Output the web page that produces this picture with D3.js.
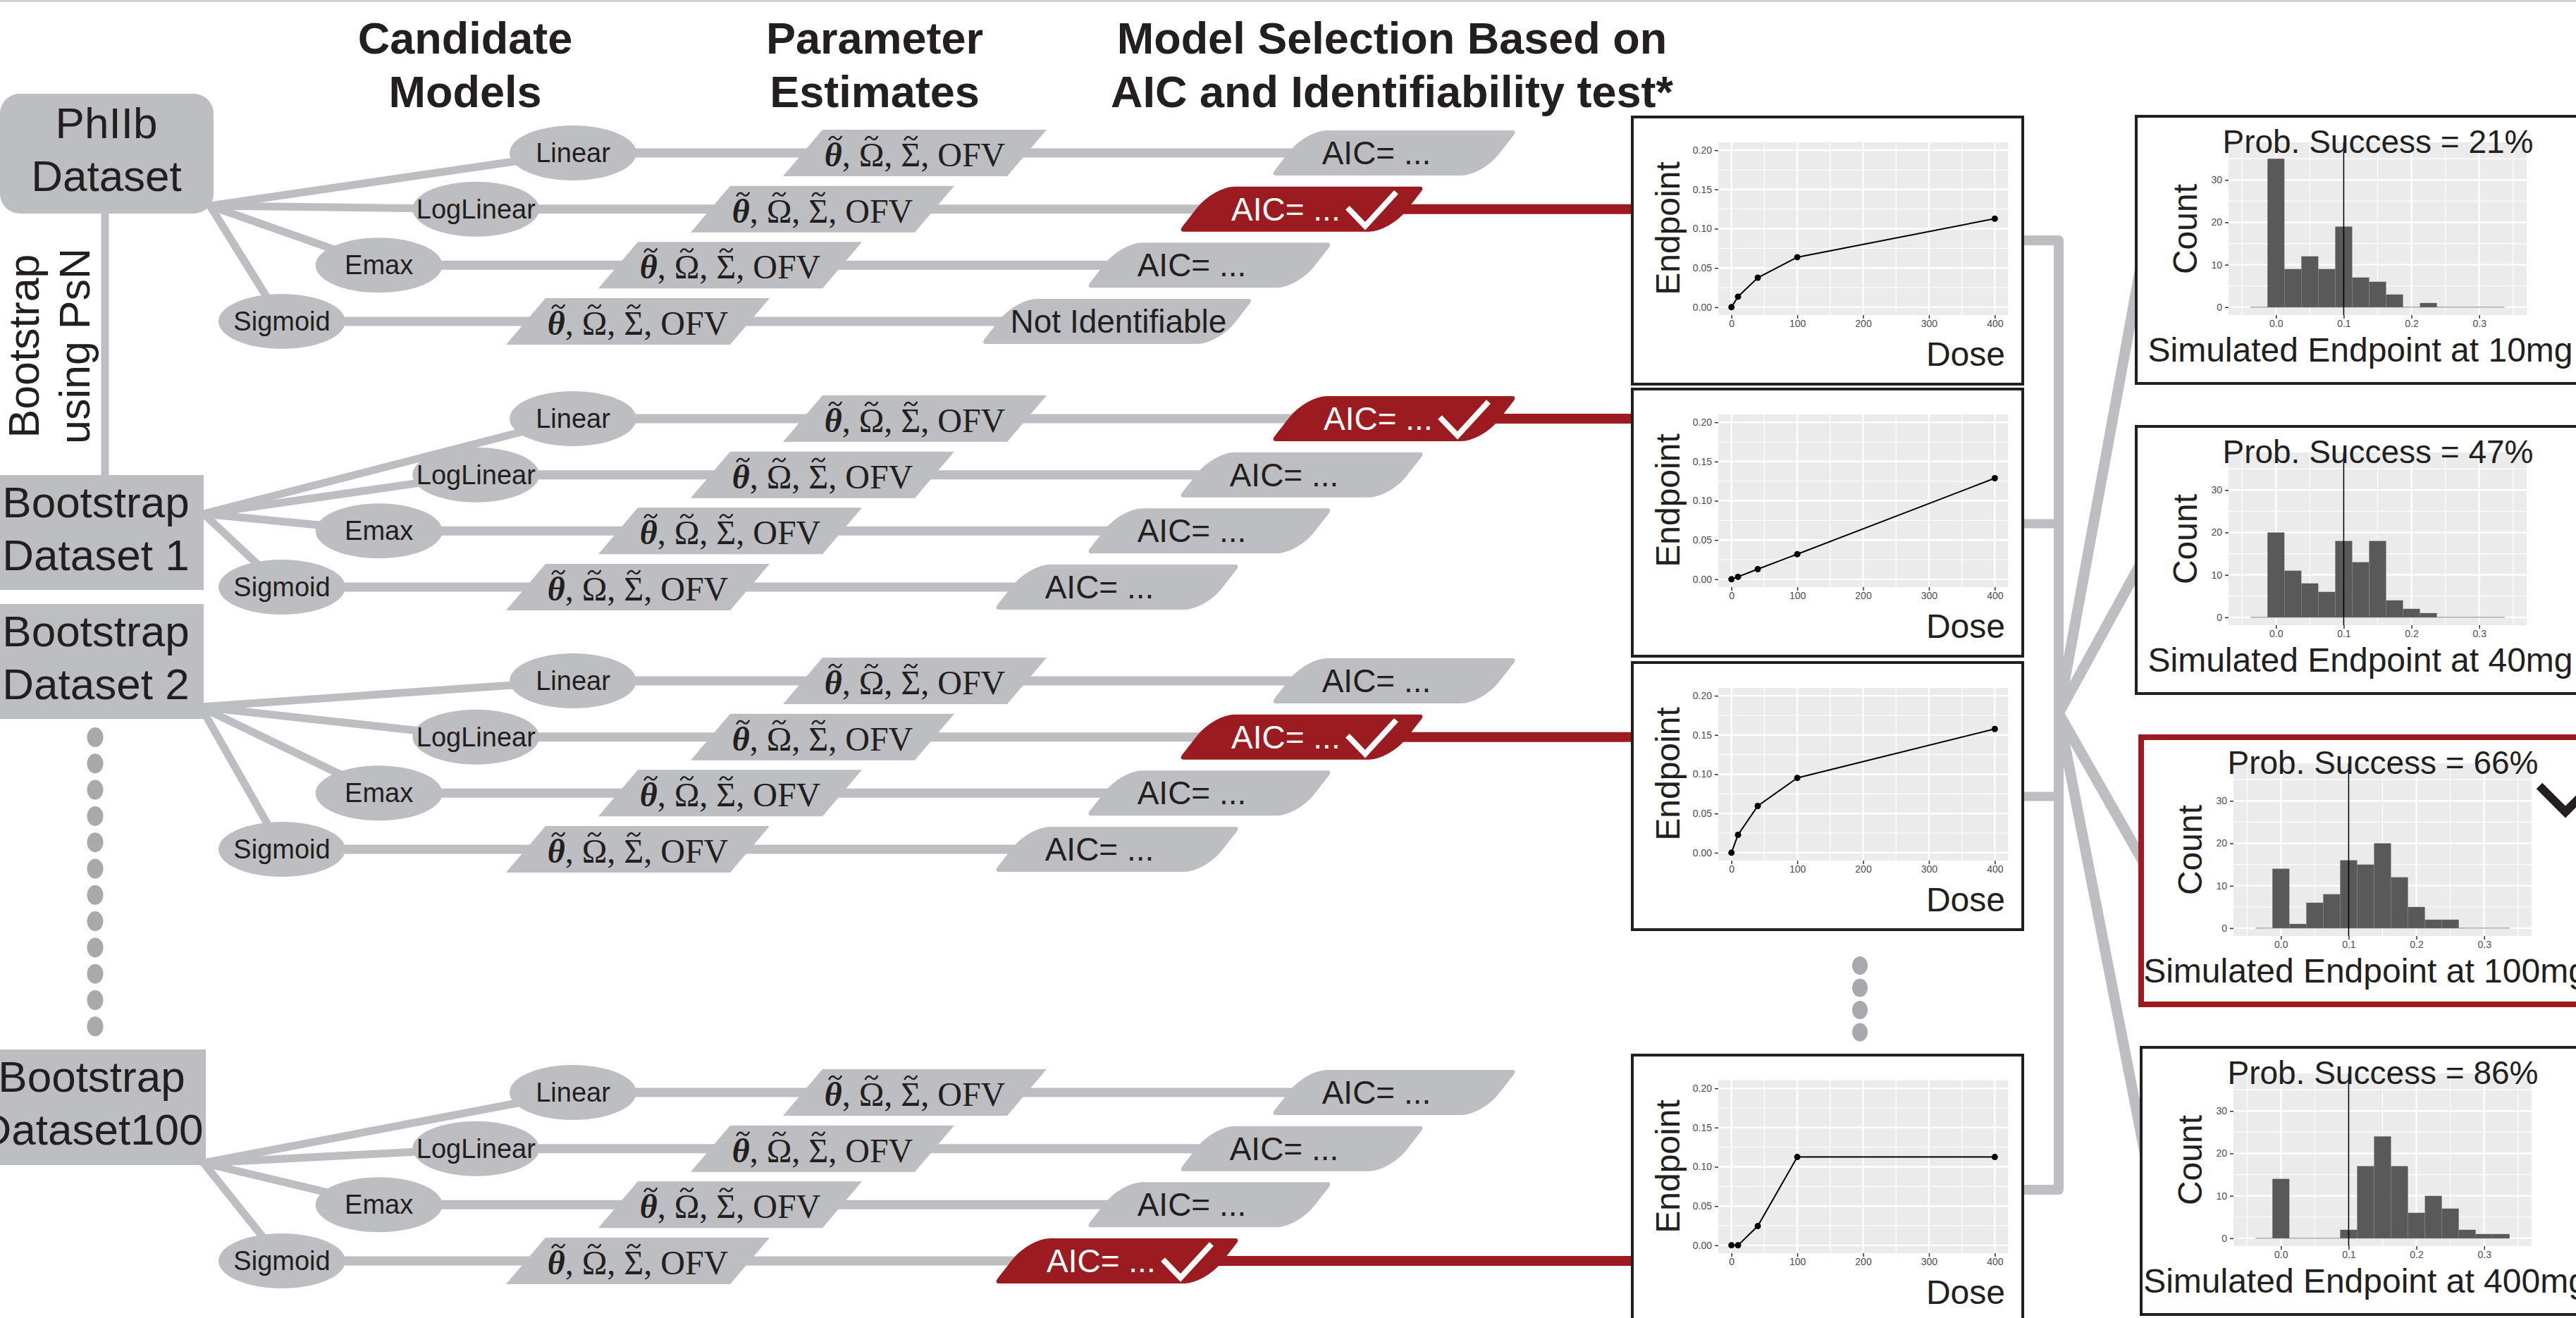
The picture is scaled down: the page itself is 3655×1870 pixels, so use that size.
<!DOCTYPE html>
<html>
<head>
<meta charset="utf-8">
<script src="https://cdn.jsdelivr.net/npm/d3@7"></script>
<style>
  html, body { margin: 0; padding: 0; background: #fff; }
  svg { display: block; }
  text { font-family: "Liberation Sans", Arial, Helvetica, sans-serif; fill: #231f20; }
</style>
</head>
<body>
<div id="chart"></div>
<script>
// Data
const headerLines = [
  ['Candidate', 'Models'],
  ['Parameter', 'Estimates'],
  ['Model Selection Based on', 'AIC and Identifiability test*'],
];
const datasetLabels = [
  ['PhIIb', 'Dataset'],
  ['Bootstrap', 'Dataset 1'],
  ['Bootstrap', 'Dataset 2'],
  ['Bootstrap', 'Dataset100'],
];
const sideLabel = ['Bootstrap', 'using PsN'];
const models = ['Linear', 'LogLinear', 'Emax', 'Sigmoid'];
const selectedModel = ['LogLinear', 'Linear', 'LogLinear', 'Sigmoid'];
const aicLabels = [
  ['AIC= ...', 'AIC= ...', 'AIC= ...', 'Not Identifiable'],
  ['AIC= ...', 'AIC= ...', 'AIC= ...', 'AIC= ...'],
  ['AIC= ...', 'AIC= ...', 'AIC= ...', 'AIC= ...'],
  ['AIC= ...', 'AIC= ...', 'AIC= ...', 'AIC= ...'],
];
const paramSymbols = ['\u03B8', '\u03A9', '\u03A3'];
const paramTail = 'OFV';

const doses = [0, 10, 40, 100, 400];
const doseResponse = [
  [0, 0.0134, 0.0376, 0.0637, 0.1128],
  [0, 0.0031, 0.0129, 0.0320, 0.1287],
  [0, 0.0228, 0.0596, 0.0953, 0.1577],
  [0, 0, 0.0245, 0.1125, 0.1125],
];
const endpointTicks = [0, 0.05, 0.10, 0.15, 0.20];
const doseTicks = [0, 100, 200, 300, 400];

const simDoses = ['10mg', '40mg', '100mg', '400mg'];
const probSuccess = [21, 47, 66, 86];
const chosenDose = '100mg';
const targetValue = 0.1;
const binWidth = 0.025;
const binCenters = [-0.025, 0, 0.025, 0.05, 0.075, 0.1, 0.125, 0.15, 0.175, 0.2, 0.225, 0.25, 0.275, 0.3, 0.325];
const counts10 = [0, 35, 9, 12, 9, 19, 7, 6, 3, 0, 1, 0, 0, 0, 0];
const counts40 = [0, 20, 11, 8, 6, 18, 13, 18, 4, 2, 1, 0, 0, 0, 0];
const counts100 = [0, 14, 1, 6, 8, 16, 15, 20, 12, 5, 2, 2, 0, 0, 0];
const counts400 = [0, 14, 0, 0, 0, 2, 17, 24, 17, 6, 10, 7, 2, 1, 1];
const simCounts = [counts10, counts40, counts100, counts400];
const countTicks = [0, 10, 20, 30];
const simTicks = [0, 0.1, 0.2, 0.3];

// Layout
const W = 3655, H = 1870;
const gray = '#bcbec1', red = '#9b1b20', ink = '#231f20', dotGray = '#a7a9ac';

const groupY = [217, 594, 966, 1550];
const rowOffset = d3.scalePoint().domain(models).range([0, 239]);
const ellipseX = d3.scalePoint().domain(models).range([813, 400]);
const paramX = d3.scalePoint().domain(models).range([1298, 905]);
const aicX = d3.scalePoint().domain(models).range([1978, 1585]);

const dsBoxes = [
  { x: 0, y: 133, w: 303, h: 170, r: 28, cx: 151 },
  { x: 0, y: 674, w: 289, h: 163, r: 0, cx: 136 },
  { x: 0, y: 857, w: 289, h: 163, r: 0, cx: 136 },
  { x: 0, y: 1489, w: 292, h: 164, r: 0, cx: 130 },
];
const fanFrom = [[298, 292], [289, 729], [285, 1003], [289, 1650]];

const plotLeft = 2316, plotW = 554, plotH = 379;
const plotTops = [166, 552, 940, 1497];
const stubY = [341, 743, 1130, 1688];
const barX = 2921, fanOrigin = [2921, 1012];
const histLefts = [3031, 3031, 3038, 3038];
const histTops = [165, 605, 1046, 1486];
const histW = 680;
const fanToY = [380, 800, 1228, 1640];

const svg = d3.select('#chart').append('svg')
  .attr('width', W).attr('height', H)
  .attr('viewBox', `0 0 ${W} ${H}`);

svg.append('rect').attr('width', W).attr('height', H).attr('fill', '#fff');
svg.append('line').attr('x1', 0).attr('x2', W).attr('y1', 1.5).attr('y2', 1.5)
  .attr('stroke', '#d2d3d5').attr('stroke-width', 3);

// Column headers
const headerX = [660, 1241, 1975];
headerLines.forEach((lines, i) => {
  svg.append('text')
    .attr('text-anchor', 'middle')
    .attr('font-weight', 'bold')
    .attr('font-size', 63)
    .selectAll('tspan').data(lines).join('tspan')
    .attr('x', headerX[i])
    .attr('y', (d, j) => 76 + j * 76)
    .text((d) => d);
});

// Bootstrap link and side label
svg.append('line').attr('x1', 149).attr('x2', 149).attr('y1', 300).attr('y2', 676)
  .attr('stroke', gray).attr('stroke-width', 11);
svg.selectAll('.side').data(sideLabel).join('text')
  .attr('class', 'side')
  .attr('transform', (d, i) => `translate(${i ? 127 : 55},491) rotate(-90)`)
  .attr('text-anchor', 'middle')
  .attr('font-size', 61)
  .text((d) => d);

// Rows: one per dataset x model
const rows = [];
datasetLabels.forEach((lab, g) => {
  models.forEach((m, k) => {
    rows.push({ g, m, y: groupY[g] + rowOffset(m), label: aicLabels[g][k], selected: selectedModel[g] === m });
  });
});

svg.append('g').attr('stroke', gray).attr('stroke-width', 11).attr('stroke-linecap', 'round')
  .selectAll('line').data(rows).join('line')
  .attr('x1', (d) => fanFrom[d.g][0]).attr('y1', (d) => fanFrom[d.g][1])
  .attr('x2', (d) => ellipseX(d.m)).attr('y2', (d) => d.y);

svg.append('g').attr('stroke', gray).attr('stroke-width', 13)
  .selectAll('line').data(rows).join('line')
  .attr('x1', (d) => ellipseX(d.m)).attr('x2', (d) => aicX(d.m))
  .attr('y1', (d) => d.y).attr('y2', (d) => d.y);

svg.append('g').attr('stroke', red).attr('stroke-width', 14)
  .selectAll('line').data(rows.filter((d) => d.selected)).join('line')
  .attr('x1', (d) => aicX(d.m)).attr('x2', plotLeft)
  .attr('y1', (d) => d.y).attr('y2', (d) => d.y);

// Candidate model ellipses
const ell = svg.append('g').selectAll('g').data(rows).join('g')
  .attr('transform', (d) => `translate(${ellipseX(d.m)},${d.y})`);
ell.append('ellipse').attr('rx', 90).attr('ry', 39).attr('fill', gray);
ell.append('text').attr('y', 13).attr('text-anchor', 'middle').attr('font-size', 38).text((d) => d.m);

// Parameter estimate parallelograms
const paraPath = (w, h, s) => `M${-w / 2 + s},${-h / 2}H${w / 2 + s}L${w / 2 - s},${h / 2}H${-w / 2 - s}Z`;
const tildePath = 'M-9,3C-6,-3 -3,-3 0,0S6,3 9,-3';
const par = svg.append('g').selectAll('g').data(rows).join('g')
  .attr('transform', (d) => `translate(${paramX(d.m)},${d.y})`);
par.append('path').attr('d', paraPath(318, 66, 28)).attr('fill', gray);
const ptxt = par.append('text').attr('y', 19).attr('text-anchor', 'middle')
  .attr('font-size', 48).style('font-family', '"Liberation Serif", "DejaVu Serif", serif');
ptxt.append('tspan').attr('font-weight', 'bold').attr('font-style', 'italic').text(paramSymbols[0]);
ptxt.append('tspan').text(`, ${paramSymbols[1]}, ${paramSymbols[2]}, ${paramTail}`);
// tildes over the three estimated symbols
ptxt.each(function () {
  const node = this;
  [0, 3, 6].forEach((ci, k) => {
    const b = node.getExtentOfChar(ci);
    d3.select(node.parentNode).append('path')
      .attr('d', tildePath)
      .attr('transform', `translate(${b.x + b.width / 2 + (k === 0 ? 3 : 0)},-21)`)
      .attr('fill', 'none').attr('stroke', ink).attr('stroke-width', 2.4);
  });
});

// AIC boxes
function aicPath(w, h, rb, rs) {
  const x0 = -w / 2, x1 = w / 2, y0 = -h / 2, y1 = h / 2;
  return `M${x0 + rb},${y0}H${x1 - rs}A${rs},${rs} 0 0 1 ${x1},${y0 + rs}V${y1 - rb}` +
    `A${rb},${rb} 0 0 1 ${x1 - rb},${y1}H${x0 + rs}A${rs},${rs} 0 0 1 ${x0},${y1 - rs}` +
    `V${y0 + rb}A${rb},${rb} 0 0 1 ${x0 + rb},${y0}Z`;
}
const aic = svg.append('g').selectAll('g').data(rows).join('g')
  .attr('transform', (d) => `translate(${aicX(d.m)},${d.y})`);
aic.append('path')
  .attr('d', (d) => aicPath(d.label === 'Not Identifiable' ? 337 : 300, 64, 30, 7))
  .attr('transform', 'skewX(-38)')
  .attr('fill', (d) => (d.selected ? red : gray));
aic.append('text')
  .attr('x', (d) => (d.selected ? -100 : d.label === 'Not Identifiable' ? 2 : -25))
  .attr('y', 16)
  .attr('text-anchor', (d) => (d.selected ? 'start' : 'middle'))
  .attr('font-size', 46)
  .style('fill', (d) => (d.selected ? '#fff' : ink))
  .text((d) => d.label);
aic.filter((d) => d.selected).append('path')
  .attr('d', 'M65,-2L90,24L134,-24')
  .attr('fill', 'none').attr('stroke', '#fff').attr('stroke-width', 8);

// Dataset boxes
const ds = svg.append('g').selectAll('g').data(dsBoxes).join('g');
ds.append('rect')
  .attr('x', (d) => d.x).attr('y', (d) => d.y).attr('width', (d) => d.w).attr('height', (d) => d.h)
  .attr('rx', (d) => d.r).attr('fill', gray);
ds.append('text').attr('text-anchor', 'middle').attr('font-size', 62)
  .selectAll('tspan').data((d, i) => datasetLabels[i].map((t, j) => ({ t, x: d.cx, y: d.y + d.h / 2 + (j ? 53 : -22) })))
  .join('tspan').attr('x', (d) => d.x).attr('y', (d) => d.y).text((d) => d.t);

// Ellipsis dots
svg.append('g').attr('fill', dotGray).selectAll('ellipse').data(d3.range(12)).join('ellipse')
  .attr('cx', 135).attr('cy', (i) => 1046 + i * 37.3).attr('rx', 11.5).attr('ry', 14);
svg.append('g').attr('fill', dotGray).selectAll('ellipse').data(d3.range(4)).join('ellipse')
  .attr('cx', 2639).attr('cy', (i) => 1370 + i * 31.5).attr('rx', 11).attr('ry', 13);

// Connectors plots -> histograms
svg.append('path')
  .attr('d', `M${plotLeft + plotW},${stubY[0]}H${barX}V${stubY[3]}H${plotLeft + plotW}`)
  .attr('fill', 'none').attr('stroke', gray).attr('stroke-width', 14).attr('stroke-linejoin', 'round');
svg.append('g').attr('stroke', gray).attr('stroke-width', 13)
  .selectAll('line').data(stubY.slice(1, 3)).join('line')
  .attr('x1', plotLeft + plotW).attr('x2', barX).attr('y1', (d) => d).attr('y2', (d) => d);
svg.append('g').attr('stroke', gray).attr('stroke-width', 15)
  .selectAll('line').data(fanToY).join('line')
  .attr('x1', fanOrigin[0]).attr('y1', fanOrigin[1])
  .attr('x2', (d, i) => histLefts[i] + 6).attr('y2', (d) => d);

function styleAxis(a) {
  a.select('.domain').remove();
  a.selectAll('.tick line').attr('stroke', '#333').attr('stroke-width', 1.5);
  a.selectAll('.tick text').style('fill', '#4d4d4d').attr('font-size', 14)
    .style('font-family', '"Liberation Sans", Arial, sans-serif');
}

function grid(g, x, y, xMajor, xMinor, yMajor, yMinor) {
  const [x0, x1] = x.range(), [y0, y1] = y.range();
  g.append('rect').attr('x', x0).attr('y', y1).attr('width', x1 - x0).attr('height', y0 - y1).attr('fill', '#ebebeb');
  const gl = g.append('g').attr('stroke', '#fff');
  gl.selectAll('.vx').data(xMinor).join('line').attr('stroke-width', 1.2)
    .attr('x1', x).attr('x2', x).attr('y1', y0).attr('y2', y1);
  gl.selectAll('.hy').data(yMinor).join('line').attr('stroke-width', 1.2)
    .attr('y1', y).attr('y2', y).attr('x1', x0).attr('x2', x1);
  gl.selectAll('.mx').data(xMajor).join('line').attr('stroke-width', 2.4)
    .attr('x1', x).attr('x2', x).attr('y1', y0).attr('y2', y1);
  gl.selectAll('.my').data(yMajor).join('line').attr('stroke-width', 2.4)
    .attr('y1', y).attr('y2', y).attr('x1', x0).attr('x2', x1);
}

// Dose-response panels
doseResponse.forEach((vals, i) => {
  const g = svg.append('g').attr('transform', `translate(${plotLeft},${plotTops[i]})`);
  g.append('rect').attr('width', plotW).attr('height', plotH).attr('fill', '#fff')
    .attr('stroke', ink).attr('stroke-width', 4);
  const x = d3.scaleLinear().domain([-20, 420]).range([122, 533]);
  const y = d3.scaleLinear().domain([-0.01, 0.21]).range([281, 36]);
  grid(g, x, y, doseTicks, [50, 150, 250, 350], endpointTicks, [0.025, 0.075, 0.125, 0.175]);
  g.append('g').attr('transform', 'translate(0,281)')
    .call(d3.axisBottom(x).tickValues(doseTicks).tickFormat(d3.format('d')).tickSize(5).tickPadding(2))
    .call(styleAxis);
  g.append('g').attr('transform', 'translate(122,0)')
    .call(d3.axisLeft(y).tickValues(endpointTicks).tickFormat(d3.format('.2f')).tickSize(5).tickPadding(4))
    .call(styleAxis);
  const pts = doses.map((d, k) => [d, vals[k]]);
  g.append('path').datum(pts)
    .attr('d', d3.line().x((d) => x(d[0])).y((d) => y(d[1])))
    .attr('fill', 'none').attr('stroke', '#000').attr('stroke-width', 2);
  g.selectAll('circle').data(pts).join('circle')
    .attr('cx', (d) => x(d[0])).attr('cy', (d) => y(d[1])).attr('r', 4.5).attr('fill', '#000');
  g.append('text').attr('transform', 'translate(67,158) rotate(-90)')
    .attr('text-anchor', 'middle').attr('font-size', 48).text('Endpoint');
  g.append('text').attr('x', 529).attr('y', 353).attr('text-anchor', 'end')
    .attr('font-size', 48).text('Dose');
});

// Simulated endpoint histograms
simCounts.forEach((counts, i) => {
  const chosen = simDoses[i] === chosenDose;
  const g = svg.append('g').attr('transform', `translate(${histLefts[i]},${histTops[i]})`);
  g.append('rect').attr('width', histW).attr('height', plotH).attr('fill', '#fff')
    .attr('stroke', chosen ? red : ink).attr('stroke-width', chosen ? 8 : 4);
  const x = d3.scaleLinear().domain([-0.07, 0.37]).range([131, 554]);
  const y = d3.scaleLinear().domain([-1.85, 38.85]).range([282, 37]);
  grid(g, x, y, simTicks, [-0.05, 0.05, 0.15, 0.25, 0.35], countTicks, [5, 15, 25, 35]);
  g.append('g').attr('transform', 'translate(0,282)')
    .call(d3.axisBottom(x).tickValues(simTicks).tickFormat(d3.format('.1f')).tickSize(5).tickPadding(2))
    .call(styleAxis);
  g.append('g').attr('transform', 'translate(131,0)')
    .call(d3.axisLeft(y).tickValues(countTicks).tickFormat(d3.format('d')).tickSize(5).tickPadding(4))
    .call(styleAxis);
  g.append('line')
    .attr('x1', x(binCenters[0] - binWidth / 2)).attr('x2', x(binCenters[binCenters.length - 1] + binWidth / 2))
    .attr('y1', y(0)).attr('y2', y(0)).attr('stroke', '#a6a6a6').attr('stroke-width', 1.5);
  g.selectAll('.bar').data(binCenters.map((c, k) => ({ c, n: counts[k] })).filter((d) => d.n > 0))
    .join('rect').attr('class', 'bar')
    .attr('x', (d) => x(d.c - binWidth / 2))
    .attr('width', (d) => x(d.c + binWidth / 2) - x(d.c - binWidth / 2))
    .attr('y', (d) => y(d.n))
    .attr('height', (d) => y(0) - y(d.n))
    .attr('fill', '#595959');
  g.append('line').attr('x1', x(targetValue)).attr('x2', x(targetValue)).attr('y1', 37).attr('y2', 282)
    .attr('stroke', '#000').attr('stroke-width', 1.6);
  g.append('text').attr('x', 343).attr('y', 52).attr('text-anchor', 'middle')
    .attr('font-size', 46).text(`Prob. Success = ${probSuccess[i]}%`);
  g.append('text').attr('transform', 'translate(86,160) rotate(-90)')
    .attr('text-anchor', 'middle').attr('font-size', 48).text('Count');
  g.append('text').attr('x', 318).attr('y', 348).attr('text-anchor', 'middle')
    .attr('font-size', 48).text(`Simulated Endpoint at ${simDoses[i]}`);
});

// Chosen dose tick mark
svg.append('path').attr('d', 'M3603,1115L3640,1152L3702,1090')
  .attr('fill', 'none').attr('stroke', ink).attr('stroke-width', 12);
</script>
</body>
</html>
